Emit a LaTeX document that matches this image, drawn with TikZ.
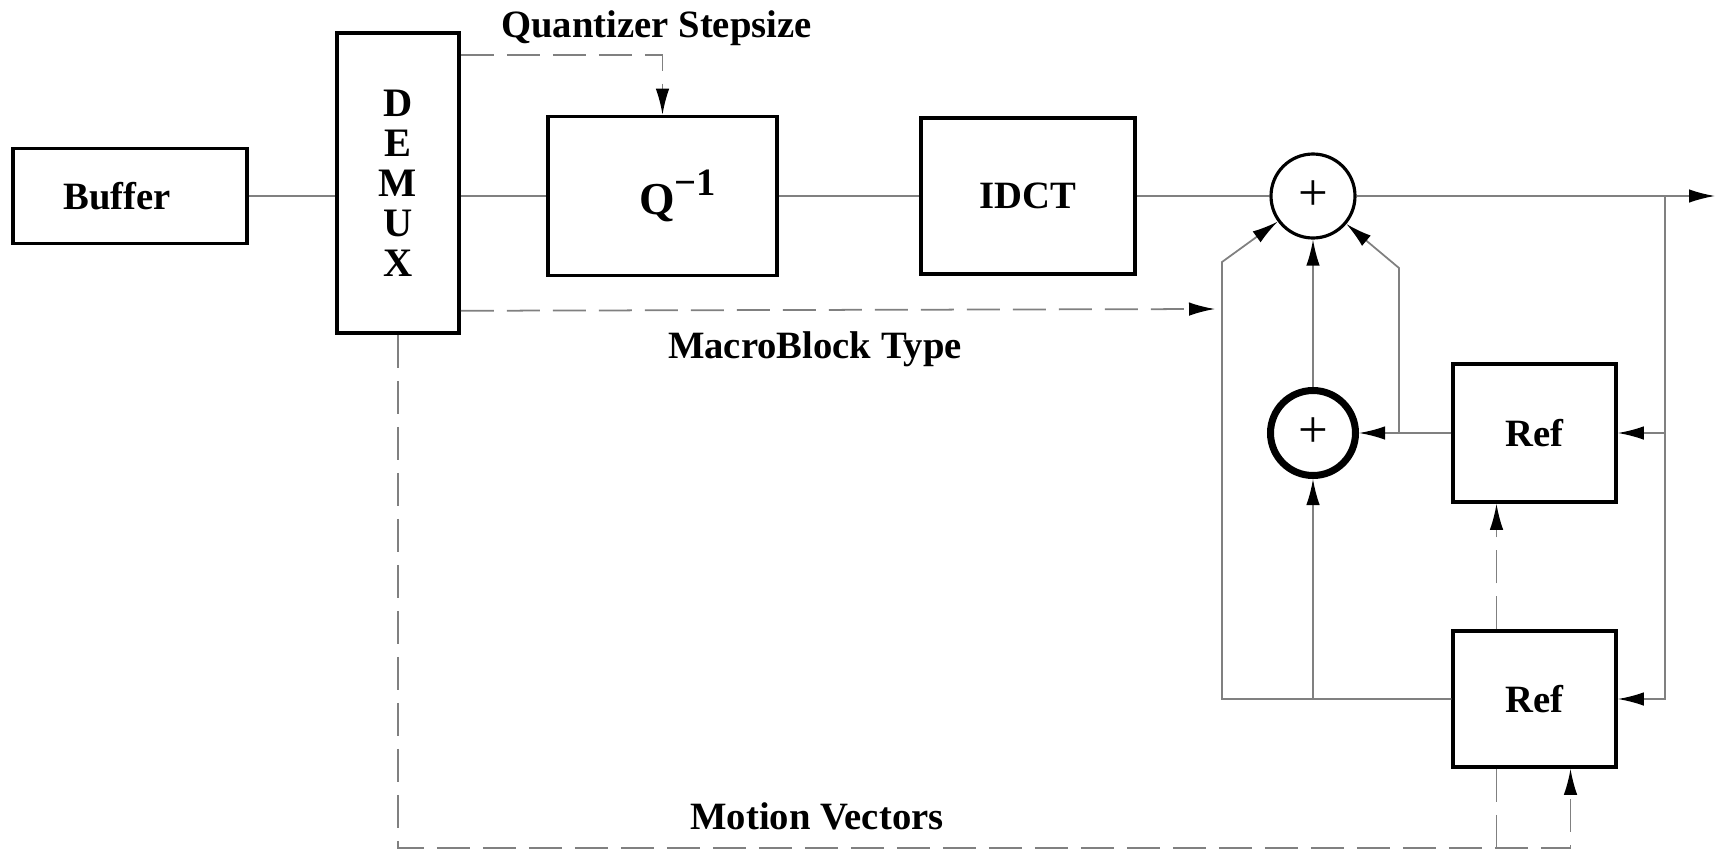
\documentclass[tikz,border=0pt]{standalone}
\usepackage{fontspec}
\setmainfont{Liberation Serif}
\usetikzlibrary{arrows.meta}

\tikzset{
  blk/.style={draw, line width=1pt, inner sep=0pt, font=\fontsize{11}{12}\selectfont\bfseries},
  adder/.style={draw, circle, line width=0.9pt, minimum size=0.84cm, inner sep=0pt, font=\fontsize{15}{16}\selectfont},
  sig/.style={draw=black!50, line width=0.5pt},
  ctrl/.style={sig, dash pattern=on 3.3mm off 1.3mm},
  tip/.style={-{Latex[length=2.6mm,width=1.35mm,color=black]}},
  lbl/.style={anchor=base, font=\fontsize{11}{12}\selectfont\bfseries},
}

\begin{document}
\begin{tikzpicture}
\useasboundingbox (0,0) rectangle (17.17,8.53);

% blocks
\node (buffer) [blk, minimum width=2.34cm, minimum height=0.95cm] at (1.30,6.57) {Buffer\hspace*{2.6mm}};
\node (demux) [blk, minimum width=1.22cm, minimum height=3.00cm, align=center, font=\fontsize{11.5}{11.4}\selectfont\bfseries] at (3.98,6.70) {D\\E\\M\\U\\X};
\node (quant) [blk, minimum width=2.29cm, minimum height=1.59cm] at (6.625,6.57) {\hspace*{3mm}\fontsize{13}{14}\selectfont Q\raisebox{0.9ex}{\fontsize{11}{12}\selectfont −1}};
\node (idct) [blk, minimum width=2.14cm, minimum height=1.56cm] at (10.28,6.57) {IDCT};
\node (sumtop) [adder] at (13.13,6.57) {+};
\node (sumlow) [adder, line width=2pt, minimum size=0.85cm] at (13.13,4.20) {+};
\node (refa) [blk, minimum width=1.63cm, minimum height=1.38cm] at (15.345,4.20) {Ref};
\node (refb) [blk, minimum width=1.63cm, minimum height=1.36cm] at (15.345,1.54) {Ref};

% labels
\node (qslbl) [lbl] at (6.565,8.16) {Quantizer Stepsize};
\node (mblbl) [lbl] at (8.15,4.95) {MacroBlock Type};
\node (mvlbl) [lbl] at (8.17,0.24) {Motion Vectors};

% corner points
\coordinate (out) at (17.15,6.57);
\coordinate (tap) at (16.65,6.57);
\coordinate (mbend) at (12.15,5.44);
\coordinate (lbend) at (12.22,5.91);
\coordinate (rbend) at (13.99,5.85);
\coordinate (mvline) at (0,0.05);

% signal path
\draw[sig] (buffer) -- (demux.west |- buffer);
\draw[sig] (demux.east |- quant) -- (quant);
\draw[sig] (quant) -- (idct);
\draw[sig] (idct) -- (sumtop);
\draw[sig, tip] (sumtop) -- (out);

% feedback
\draw[sig, tip] (tap) |- (refb.east);
\draw[sig, tip] (tap |- refa.east) -- (refa.east);
\draw[sig, tip] (refa) -- (sumlow);
\draw[sig, tip] (sumlow) -- (sumtop);
\draw[sig, tip] (refa.west -| rbend) -- (rbend) -- (sumtop);
\draw[sig, tip] (refb.west) -| (lbend) -- (sumtop);
\draw[sig, tip] (refb.west -| sumlow) -- (sumlow);

% side information
\draw[ctrl, tip] ([yshift=-0.24cm]demux.north east) -| (quant.north);
\draw[ctrl, tip] ([yshift=0.24cm]demux.south east) -- (mbend);
\draw[ctrl, tip] (demux.south) -- (demux.south |- mvline) -| ([xshift=3.6mm]refb.south);
\draw[ctrl] ([xshift=-3.8mm]refb.south) -- ([xshift=-3.8mm]refb.south |- mvline);
\draw[ctrl, tip] ([xshift=-3.8mm]refb.north) -- ([xshift=-3.8mm]refa.south);
\end{tikzpicture}
\end{document}
